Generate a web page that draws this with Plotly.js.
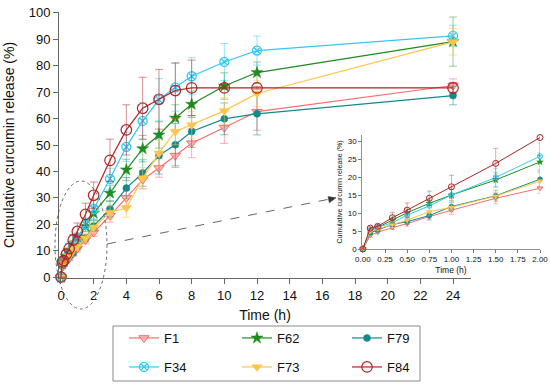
<!DOCTYPE html>
<html>
<head>
<meta charset="utf-8">
<script src="https://cdn.plot.ly/plotly-3.0.1.min.js"></script>
<style>html,body{margin:0;padding:0;background:#fff;}#chart{width:550px;height:388px;}</style>
</head>
<body>
<div id="chart"></div>
<script>
// ---- data ----
const times = [0, 0.083, 0.167, 0.333, 0.5, 0.75, 1, 1.5, 2, 3, 4, 5, 6, 7, 8, 10, 12, 24];
const seriesNames = ['F1', 'F62', 'F79', 'F34', 'F73', 'F84'];
const F1  = [0, 3.8, 4.7, 6.0, 7.1, 9.0, 10.8, 14.1, 16.9, 23.3, 30.0, 36.9, 41.3, 46.0, 50.7, 56.6, 62.6, 72.5];
const F1_err  = [0, 0.5, 0.5, 0.6, 0.8, 1.0, 1.2, 1.5, 1.5, 2.5, 3.0, 3.5, 3.5, 4.5, 5.5, 6.0, 7.0, 2.5];
const F62 = [0, 5.2, 6.0, 8.0, 10.1, 12.7, 15.0, 19.2, 24.2, 31.8, 40.6, 48.6, 53.8, 60.2, 65.4, 72.3, 77.4, 89.1];
const F62_err = [0, 0.5, 0.5, 0.8, 1.0, 1.2, 1.5, 2.0, 2.5, 3.0, 4.0, 5.0, 5.0, 5.0, 5.0, 5.0, 4.0, 9.3];
const F79 = [0, 4.5, 5.3, 6.8, 7.6, 9.3, 11.8, 14.8, 19.4, 25.8, 33.7, 39.4, 46.0, 50.1, 55.1, 59.9, 61.8, 68.7];
const F79_err = [0, 0.5, 0.5, 0.6, 0.8, 1.0, 1.2, 1.5, 2.0, 3.0, 4.0, 5.0, 7.0, 8.0, 6.0, 6.0, 8.0, 3.5];
const F34 = [0, 5.3, 6.0, 7.3, 9.4, 12.0, 15.0, 19.9, 25.8, 37.2, 49.3, 59.1, 67.1, 71.8, 76.0, 81.4, 85.7, 91.3];
const F34_err = [0, 0.5, 0.5, 0.8, 1.0, 1.5, 2.0, 2.5, 3.7, 4.0, 5.5, 7.0, 8.0, 9.0, 7.0, 7.0, 5.5, 4.0];
const F73 = [0, 5.0, 5.6, 6.8, 8.0, 10.4, 11.6, 14.7, 18.9, 24.5, 26.2, 37.5, 46.9, 55.1, 57.6, 62.9, 69.5, 89.0];
const F73_err = [0, 0.5, 0.5, 0.8, 1.0, 1.2, 1.5, 1.5, 2.0, 2.5, 3.5, 4.0, 5.0, 5.0, 5.0, 5.0, 5.0, 5.0];
const F84 = [0, 5.8, 6.3, 8.7, 10.8, 14.1, 17.3, 23.8, 31.0, 44.2, 55.7, 63.9, 67.3, 70.6, 71.6, 71.6, 71.6, 71.6];
const F84_err = [0, 0.5, 0.5, 1.5, 2.0, 2.0, 3.2, 4.2, 5.0, 8.0, 9.5, 11.7, 11.3, 10.5, 10.5, 0.5, 0.5, 2.0];
const mainTicks = [0, 2, 4, 6, 8, 10, 12, 14, 16, 18, 20, 22, 24];
const insetTicks = [0, 0.25, 0.5, 0.75, 1, 1.25, 1.5, 1.75, 2];

const values = {F1: F1, F62: F62, F79: F79, F34: F34, F73: F73, F84: F84};
const errors = {F1: F1_err, F62: F62_err, F79: F79_err, F34: F34_err, F73: F73_err, F84: F84_err};

// ---- styles ----
const styles = {
  F1:  {color: '#F46E6E', err: 'rgba(244,110,110,0.55)', symbol: 'triangle-down', size: 9, fill: 'rgba(255,170,170,0.8)', lw: 1, isize: 5},
  F62: {color: '#1E8C1E', err: 'rgba(30,140,30,0.45)', symbol: 'star', size: 9, fill: '#1E8C1E', lw: 0.5, isize: 5},
  F79: {color: '#138A8A', err: 'rgba(19,138,138,0.5)', symbol: 'circle', size: 7, fill: '#138A8A', lw: 0.5, isize: 5},
  F34: {color: '#33C8F2', err: 'rgba(51,200,242,0.5)', symbol: 'circle-x-open', size: 9, fill: '#33C8F2', lw: 1.3, isize: 5},
  F73: {color: '#FFC54A', err: 'rgba(255,197,74,0.55)', symbol: 'triangle-down', size: 9, fill: '#FFC54A', lw: 0.5, isize: 5},
  F84: {color: '#B22222', err: 'rgba(178,34,34,0.5)', symbol: 'circle-open', size: 10.5, fill: '#B22222', lw: 1.2, isize: 6}
};
const drawOrder = ['F1', 'F62', 'F79', 'F34', 'F73', 'F84'];
const legendIds = {F1: 'legend', F62: 'legend2', F79: 'legend3', F34: 'legend4', F73: 'legend5', F84: 'legend6'};

const nInset = times.filter(t => t <= 2).length;
const traces = [];
drawOrder.forEach(name => {
  const s = styles[name];
  const mk = {symbol: s.symbol, size: s.size, color: s.fill, line: {color: s.color, width: s.lw}};
  traces.push({
    type: 'scatter', mode: 'lines+markers', name: name, x: times, y: values[name],
    xaxis: 'x', yaxis: 'y', cliponaxis: false, legend: legendIds[name],
    line: {color: s.color, width: 1.2}, marker: mk,
    error_y: {type: 'data', array: errors[name], visible: true, color: s.err, thickness: 1, width: 4}
  });
});
drawOrder.forEach(name => {
  const s = styles[name];
  traces.push({
    type: 'scatter', mode: 'lines+markers', name: name, showlegend: false,
    x: times.slice(0, nInset), y: values[name].slice(0, nInset),
    xaxis: 'x2', yaxis: 'y2', cliponaxis: false,
    line: {color: s.color, width: 1},
    marker: {symbol: s.symbol, size: s.isize, color: s.fill, line: {color: s.color, width: Math.min(s.lw, 1)}},
    error_y: {type: 'data', array: errors[name].slice(0, nInset), visible: true, color: s.err, thickness: 0.8, width: 2.5}
  });
});

// pixel -> paper helpers (plot area: x 59..545, y 12..278)
const PX = px => (px - 59) / 486;
const PY = py => (278 - py) / 266;

const font = 'Liberation Sans, Arial, Helvetica, sans-serif';
const legendCommon = {
  orientation: 'h', xanchor: 'left', yanchor: 'middle', bgcolor: 'rgba(0,0,0,0)',
  borderwidth: 0, font: {family: font, size: 13, color: '#111'}
};
const legendPos = {
  legend:  [124, 338], legend2: [237, 338], legend3: [347, 338],
  legend4: [124, 367], legend5: [237, 367], legend6: [347, 367]
};

const layout = {
  width: 550, height: 388,
  margin: {l: 59, r: 5, t: 12, b: 110},
  paper_bgcolor: '#fff', plot_bgcolor: 'rgba(0,0,0,0)',
  font: {family: font, color: '#111'},
  showlegend: true,
  xaxis: {
    domain: [0, 412 / 486], range: [-0.122, 25.1], tickvals: mainTicks,
    ticks: 'outside', ticklen: 5, tickcolor: '#666', showline: true, linecolor: '#666', linewidth: 1,
    showgrid: false, zeroline: false, tickfont: {size: 13, color: '#111'},
    title: {text: 'Time (h)', font: {size: 14, color: '#111'}, standoff: 8}
  },
  yaxis: {
    domain: [0, 1], range: [-0.3, 100.3], dtick: 10,
    ticks: 'outside', ticklen: 5, tickcolor: '#666', showline: true, linecolor: '#666', linewidth: 1,
    showgrid: false, zeroline: false, tickfont: {size: 13, color: '#111'},
    title: {text: 'Cumulative curcumin release (%)', font: {size: 14, color: '#111'}, standoff: 10}
  },
  xaxis2: {
    domain: [PX(362), PX(540)], anchor: 'y2', range: [-0.01, 2.0], tickvals: insetTicks, tickformat: '.2f',
    ticks: 'outside', ticklen: 3, tickcolor: '#777', showline: true, linecolor: '#777', linewidth: 0.8,
    showgrid: false, zeroline: false, tickfont: {size: 8, color: '#111'},
    title: {text: 'Time (h)', font: {size: 8.5, color: '#111'}, standoff: 3}
  },
  yaxis2: {
    domain: [PY(249), PY(135)], anchor: 'x2', range: [0, 31.7], dtick: 5,
    ticks: 'outside', ticklen: 3, tickcolor: '#777', showline: true, linecolor: '#777', linewidth: 0.8,
    showgrid: false, zeroline: false, tickfont: {size: 8, color: '#111'},
    title: {text: 'Cumulative curcumin release (%)', font: {size: 7, color: '#111'}, standoff: 4}
  },
  shapes: [
    {type: 'circle', xref: 'paper', yref: 'paper', x0: PX(55), x1: PX(107), y0: PY(309), y1: PY(181),
     line: {color: '#555', width: 0.9, dash: 'dot'}},
    {type: 'line', xref: 'paper', yref: 'paper', x0: PX(107), y0: PY(244), x1: PX(330), y1: PY(199),
     line: {color: '#555', width: 0.9, dash: 'dash'}},
    {type: 'path', xref: 'paper', yref: 'paper',
     path: 'M ' + PX(336) + ' ' + PY(197.8) + ' L ' + PX(328) + ' ' + PY(196.6) + ' L ' + PX(329.3) + ' ' + PY(202.8) + ' Z',
     fillcolor: '#333', line: {color: '#333', width: 0.5}},
    {type: 'rect', xref: 'paper', yref: 'paper', x0: PX(113), x1: PX(420), y0: PY(381), y1: PY(326),
     line: {color: '#8a8a8a', width: 1}, fillcolor: 'rgba(0,0,0,0)'}
  ]
};
Object.keys(legendPos).forEach(k => {
  layout[k] = Object.assign({}, legendCommon, {x: PX(legendPos[k][0]), y: PY(legendPos[k][1])});
});

Plotly.newPlot('chart', traces, layout, {displayModeBar: false, staticPlot: true});
</script>
</body>
</html>
